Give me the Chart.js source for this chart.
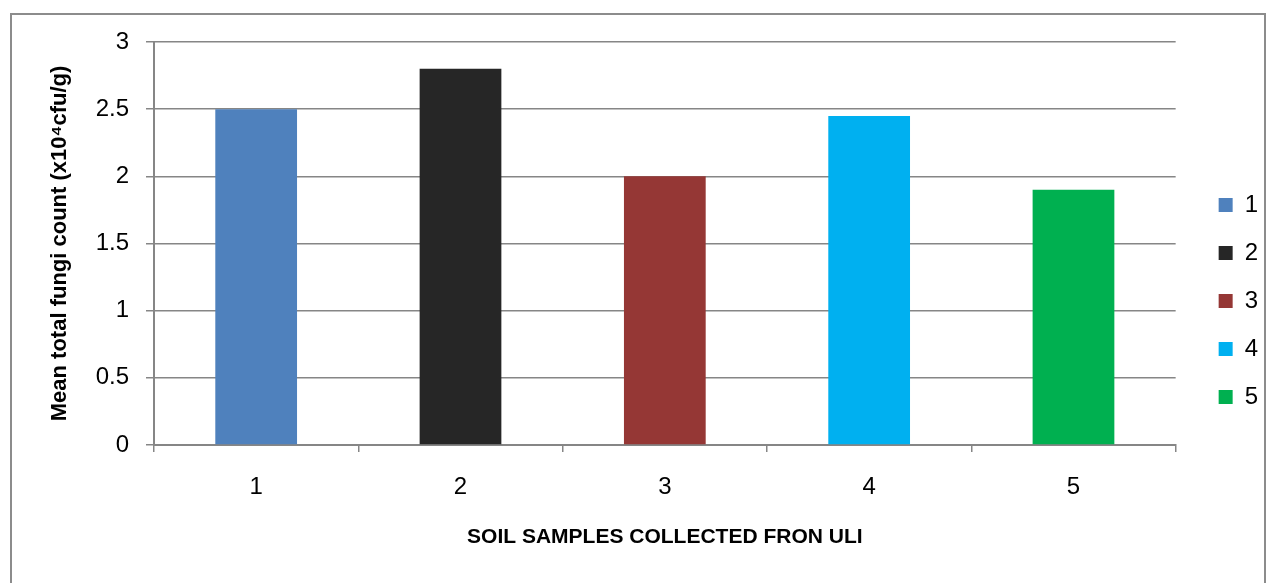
<!DOCTYPE html>
<html>
<head>
<meta charset="utf-8">
<script src="https://cdn.jsdelivr.net/npm/chart.js@4.4.1/dist/chart.umd.min.js"></script>
<style>
  html, body { margin: 0; padding: 0; background: #ffffff; }
  #wrap { position: absolute; left: 0; top: 0; width: 1268px; height: 583px; overflow: hidden; }
  #frame { position: absolute; left: 10px; top: 13px; width: 1252px; height: 700px; border: 2px solid #8c8c8c; pointer-events: none; }
  canvas { position: absolute; left: 0; top: 0; }
</style>
</head>
<body>
<div id="wrap">
  <canvas id="c" width="1268" height="583"></canvas>
  <div id="frame"></div>
</div>
<script>
const categories = ['1', '2', '3', '4', '5'];
const values = [2.5, 2.8, 2.0, 2.45, 1.9];
const barColors = ['#4F81BD', '#262626', '#953735', '#00B0F0', '#00B050'];
const yMin = 0, yMax = 3, yStep = 0.5;
const xTitle = 'SOIL SAMPLES COLLECTED FRON ULI';
const yTitle = 'Mean total fungi count (x10\u2074cfu/g)';

const gridColor = '#868686';

new Chart(document.getElementById('c'), {
  type: 'bar',
  data: {
    labels: categories,
    datasets: [{
      data: values,
      backgroundColor: barColors,
      borderWidth: 0,
      barPercentage: 0.4,
      categoryPercentage: 1.0
    }]
  },
  options: {
    responsive: false,
    animation: false,
    devicePixelRatio: 1,
    layout: { padding: { left: 0, top: 42, right: 0, bottom: 23 } },
    plugins: {
      tooltip: { enabled: false },
      legend: {
        position: 'right',
        align: 'center',
        labels: {
          boxWidth: 14,
          boxHeight: 14,
          padding: 24,
          color: '#000',
          font: { family: 'Liberation Sans', size: 24 },
          generateLabels: (chart) => chart.data.labels.map((l, i) => ({
            text: l,
            fillStyle: chart.data.datasets[0].backgroundColor[i],
            strokeStyle: chart.data.datasets[0].backgroundColor[i],
            lineWidth: 0,
            hidden: false,
            index: i
          }))
        }
      }
    },
    scales: {
      x: {
        grid: { display: true, drawOnChartArea: false, drawTicks: true, tickLength: 7, color: gridColor, lineWidth: 1.5, offset: true },
        border: { display: true, color: gridColor, width: 2 },
        ticks: { color: '#000', padding: 21, font: { family: 'Liberation Sans', size: 24 } },
        title: {
          display: true, text: xTitle, color: '#000',
          font: { family: 'Liberation Sans', size: 21, weight: 'bold' },
          padding: { top: 10, bottom: 10 }
        },
        afterFit: (s) => { s.height = 115; }
      },
      y: {
        min: yMin, max: yMax,
        ticks: {
          stepSize: yStep, color: '#000', padding: 17,
          font: { family: 'Liberation Sans', size: 24 },
          callback: (v) => String(v)
        },
        grid: { color: gridColor, lineWidth: 1.5, tickLength: 8, drawTicks: true },
        border: { display: true, color: gridColor, width: 2 },
        title: {
          display: true, text: yTitle, color: '#000',
          font: { family: 'Liberation Sans', size: 22, weight: 'bold' },
          padding: { top: 47, bottom: 0 }
        },
        afterFit: (s) => { s.width = 154; }
      },
      y2: {
        type: 'linear',
        position: 'right',
        display: true,
        grid: { display: false },
        border: { display: false },
        ticks: { display: false },
        afterFit: (s) => { s.width = 19; }
      }
    }
  }
});
</script>
</body>
</html>
